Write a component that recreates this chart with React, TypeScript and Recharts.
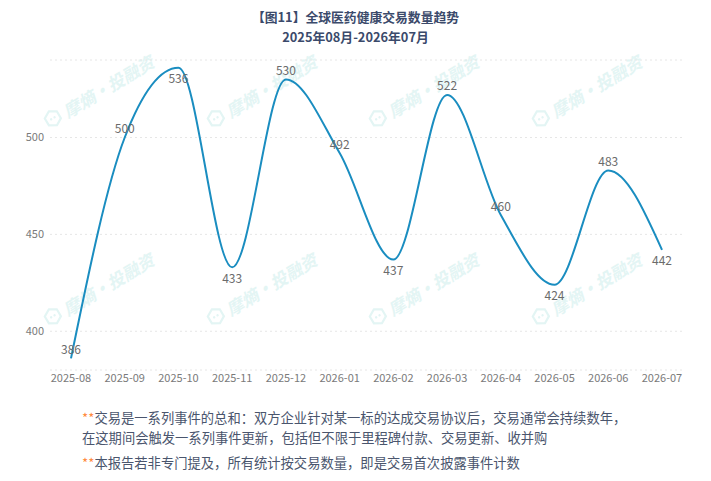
import React from "react";
import { LineChart, Line, XAxis, YAxis, CartesianGrid, LabelList } from "recharts";

// 交易数量（按月）
const months = [
  "2025-08", "2025-09", "2025-10", "2025-11", "2025-12", "2026-01",
  "2026-02", "2026-03", "2026-04", "2026-05", "2026-06", "2026-07",
];
const dealCounts = [386, 500, 536, 433, 530, 492, 437, 522, 460, 424, 483, 442];
const yTicks = [400, 450, 500];

// labels drawn under the point instead of above
const labelsBelow = new Set(["2025-10", "2025-11", "2026-02", "2026-05", "2026-07"]);

const FONT = '"Noto Sans CJK SC", "Noto Sans", sans-serif';
const LINE_COLOR = "#1a8dc0";
const WM_COLOR = "#e3f5f4";

const data = months.map((m, i) => ({ month: m, count: dealCounts[i] }));

const wmCols = [100, 263, 425, 588];
const wmRows = [90, 288];

function Watermark({ cx, cy }: { cx: number; cy: number }) {
  return (
    <div
      style={{
        position: "absolute",
        left: cx - 65,
        top: cy - 12,
        width: 130,
        height: 24,
        display: "flex",
        alignItems: "center",
        gap: 3,
        transform: "rotate(-31deg)",
        color: WM_COLOR,
        fontSize: 17,
        fontWeight: 700,
        fontStyle: "italic",
        whiteSpace: "nowrap",
      }}
    >
      <svg width="20" height="20" viewBox="0 0 20 20">
        <path d="M10 2 L17 6 L17 14 L10 18 L3 14 L3 6 Z" fill="none" stroke={WM_COLOR} strokeWidth="2.2" />
        <circle cx="8" cy="10" r="1.2" fill={WM_COLOR} />
        <circle cx="12" cy="10" r="1.2" fill={WM_COLOR} />
      </svg>
      <span>摩熵·投融资</span>
    </div>
  );
}

function PointLabel(props: any) {
  const { x, y, value, index } = props;
  const below = labelsBelow.has(months[index]);
  return (
    <text
      x={x}
      y={below ? y + 10 : y - 10}
      textAnchor="middle"
      dominantBaseline="central"
      fontSize={12}
      fill="#6b6b6b"
      fontFamily={FONT}
    >
      {value}
    </text>
  );
}

export default function App() {
  return (
    <div
      style={{
        position: "fixed",
        left: 0,
        top: 0,
        width: 711,
        height: 481,
        background: "#fff",
        overflow: "hidden",
        fontFamily: FONT,
      }}
    >
      {wmRows.map((cy) => wmCols.map((cx) => <Watermark key={`${cx}-${cy}`} cx={cx} cy={cy} />))}

      <div
        style={{
          position: "absolute",
          top: 7,
          left: 0,
          width: 711,
          textAlign: "center",
          fontSize: 12.8,
          fontWeight: 700,
          color: "#3b4a6b",
          lineHeight: "19px",
        }}
      >
        <div>【图11】全球医药健康交易数量趋势</div>
        <div style={{ marginTop: 1 }}>2025年08月-2026年07月</div>
      </div>

      <div style={{ position: "absolute", left: 0, top: 0 }}>
        <LineChart width={711} height={400} data={data} margin={{ top: 60, right: 26, bottom: 0, left: 0 }}>
          <CartesianGrid vertical={false} stroke="#e6e6e6" strokeDasharray="2 3" />
          <XAxis
            dataKey="month"
            height={30}
            interval={0}
            axisLine={false}
            tickLine={false}
            tickSize={0}
            tickMargin={4}
            padding={{ left: 21, right: 23 }}
            tick={{ fontSize: 11, fill: "#7a7a7a", fontFamily: FONT }}
          />
          <YAxis
            width={50}
            domain={[380, 540]}
            ticks={yTicks}
            axisLine={false}
            tickLine={false}
            tickSize={0}
            tickMargin={6}
            tick={{ fontSize: 11, fill: "#7a7a7a", fontFamily: FONT }}
          />
          <Line
            type="monotone"
            dataKey="count"
            stroke={LINE_COLOR}
            strokeWidth={2}
            dot={false}
            activeDot={false}
            isAnimationActive={false}
          >
            <LabelList dataKey="count" content={<PointLabel />} />
          </Line>
        </LineChart>
      </div>

      <div
        style={{
          position: "absolute",
          left: 82,
          top: 408,
          fontSize: 13.3,
          color: "#4a556d",
          lineHeight: "20px",
        }}
      >
        <div>
          <span style={{ color: "#ff8a3d" }}>**</span>交易是一系列事件的总和：双方企业针对某一标的达成交易协议后，交易通常会持续数年，
        </div>
        <div>在这期间会触发一系列事件更新，包括但不限于里程碑付款、交易更新、收并购</div>
        <div style={{ marginTop: 5 }}>
          <span style={{ color: "#ff8a3d" }}>**</span>本报告若非专门提及，所有统计按交易数量，即是交易首次披露事件计数
        </div>
      </div>
    </div>
  );
}
